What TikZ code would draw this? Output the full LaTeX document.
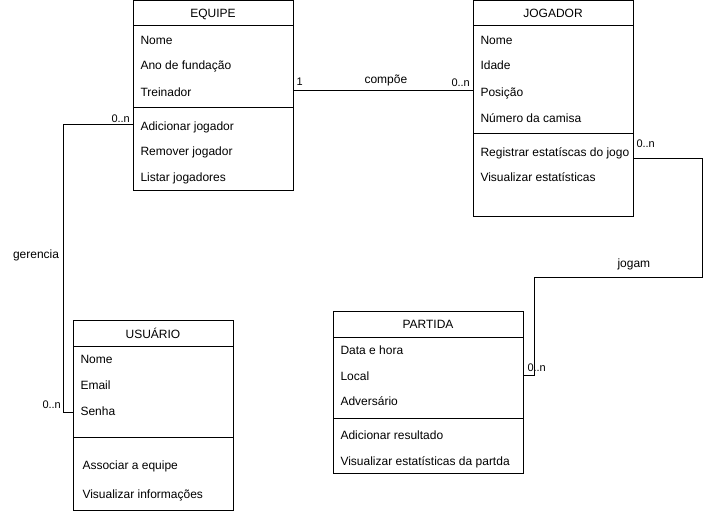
\documentclass[tikz,border=0pt]{standalone}
\usepackage{fontspec}
\setmainfont{Liberation Sans}
\begin{document}
\begin{tikzpicture}[x=1pt,y=-1pt,line width=1pt,
  box/.style={draw,anchor=north west,inner sep=0pt,outer sep=0pt},
  txt/.style={anchor=base west,inner sep=0pt,font=\fontsize{12}{14}\selectfont},
  ttl/.style={anchor=base,inner sep=0pt,font=\fontsize{12}{14}\selectfont},
  lbl/.style={anchor=base west,inner sep=0pt,font=\fontsize{11}{13}\selectfont}]
\useasboundingbox (0,0) rectangle (705,511);

% EQUIPE
\node[box,minimum width=160pt,minimum height=189pt] (equipe) at (133,1) {};
\draw (133,26) -- (293,26);
\draw (133,108) -- (293,108);
\node[ttl] (eqt) at (213,17.5) {EQUIPE};
\node[txt] (eq1) at (140,44.5) {Nome};
\node[txt] (eq2) at (140,70) {Ano de fundação};
\node[txt] (eq3) at (140,96) {Treinador};
\node[txt] (eq4) at (140,130.5) {Adicionar jogador};
\node[txt] (eq5) at (140,156) {Remover jogador};
\node[txt] (eq6) at (140,182) {Listar jogadores};

% JOGADOR
\node[box,minimum width=160pt,minimum height=215pt] (jogador) at (473,1) {};
\draw (473,26) -- (633,26);
\draw (473,134) -- (633,134);
\node[ttl] (jgt) at (553,17.5) {JOGADOR};
\node[txt] (jg1) at (480,44.5) {Nome};
\node[txt] (jg2) at (480,70) {Idade};
\node[txt] (jg3) at (480,96) {Posição};
\node[txt] (jg4) at (480,122) {Número da camisa};
\node[txt] (jg5) at (480,156.5) {Registrar estatíscas do jogo};
\node[txt] (jg6) at (480,182) {Visualizar estatísticas};

% PARTIDA
\node[box,minimum width=190pt,minimum height=162pt] (partida) at (333,311) {};
\draw (333,337) -- (523,337);
\draw (333,418) -- (523,418);
\node[ttl] (pat) at (428,328.5) {PARTIDA};
\node[txt] (pa1) at (340,354.5) {Data e hora};
\node[txt] (pa2) at (340,380) {Local};
\node[txt] (pa3) at (340,405.5) {Adversário};
\node[txt] (pa4) at (340,439.5) {Adicionar resultado};
\node[txt] (pa5) at (340,465.5) {Visualizar estatísticas da partda};

% USUARIO
\node[box,minimum width=160pt,minimum height=190pt] (usuario) at (73,320) {};
\draw (73,346) -- (233,346);
\draw (73,437) -- (233,437);
\node[ttl] (ust) at (153,338.5) {USUÁRIO};
\node[txt] (us1) at (80,363.5) {Nome};
\node[txt] (us2) at (80,389.5) {Email};
\node[txt] (us3) at (80,415.5) {Senha};
\node[txt] (us4) at (82,469) {Associar a equipe};
\node[txt] (us5) at (82,498.5) {Visualizar informações};

% compoe
\coordinate (e1) at (0,91);
\draw (equipe.east |- e1) -- (jogador.west |- e1);
\node[lbl] (l1) at (296,86) {1};
\node[txt] (l2) at (364,84) {compõe};
\node[lbl] (l3) at (451,87) {0..n};

% jogam
\coordinate (ja) at (702,158);
\coordinate (jb) at (702,277);
\coordinate (jc) at (534,277);
\coordinate (jd) at (534,375);
\draw (jogador.east |- ja) -- (ja) -- (jb) -- (jc) -- (jd) -- (partida.east |- jd);
\node[lbl] (l4) at (636,147) {0..n};
\node[txt] (l5) at (617,267) {jogam};
\node[lbl] (l6) at (527,371.5) {0..n};

% gerencia
\coordinate (ga) at (63,125);
\coordinate (gb) at (63,412);
\draw (equipe.west |- ga) -- (ga) -- (gb) -- (usuario.west |- gb);
\node[lbl] (l7) at (111,122.5) {0..n};
\node[txt] (l8) at (12.5,258.5) {gerencia};
\node[lbl] (l9) at (42,408) {0..n};
\end{tikzpicture}
\end{document}
